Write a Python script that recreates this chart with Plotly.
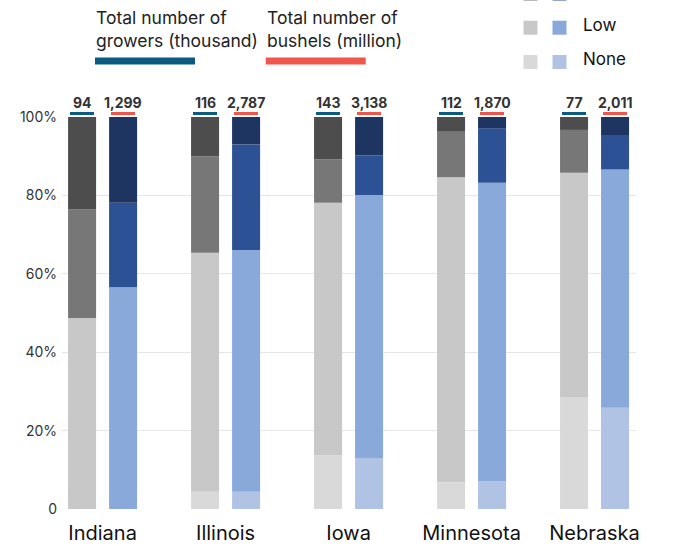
import numpy as np
import plotly.graph_objects as go

# Data
states = ["Indiana", "Illinois", "Iowa", "Minnesota", "Nebraska"]
levels = ["None", "Low", "Medium", "High"]

growers_total = [94, 116, 143, 112, 77]          # thousand growers
bushels_total = [1299, 2787, 3138, 1870, 2011]  # million bushels

# Share (%) of growers in each level, per state
growers_none = [0.0, 4.4, 13.7, 6.8, 28.6]
growers_low = [48.7, 61.0, 64.4, 77.8, 57.2]
growers_medium = [27.7, 24.6, 11.1, 11.8, 10.9]
growers_high = [23.6, 10.0, 10.8, 3.6, 3.3]

# Share (%) of bushels in each level, per state
bushels_none = [0.0, 4.4, 13.0, 7.0, 25.8]
bushels_low = [56.6, 61.7, 67.1, 76.2, 60.8]
bushels_medium = [21.5, 26.9, 10.1, 13.9, 8.8]
bushels_high = [21.9, 7.0, 9.8, 2.9, 4.6]

y_ticks = [0, 20, 40, 60, 80, 100]
y_tick_labels = ["0", "20%", "40%", "60%", "80%", "100%"]

# Styling
gray_colors = ["#D9D9D9", "#C8C8C8", "#777777", "#4D4D4D"]
blue_colors = ["#B0C3E5", "#8AA9DB", "#2D5195", "#1E3461"]
growers_line = "#0B5A82"
bushels_line = "#F0574A"
FONT = "Inter"

W, H = 679, 546
M_L, M_R, M_T, M_B = 62, 43, 117, 37
PW, PH = W - M_L - M_R, H - M_T - M_B


def px(x):
    return (x - M_L) / PW


def py(y):
    return (H - M_B - y) / PH


growers = [growers_none, growers_low, growers_medium, growers_high]
bushels = [bushels_none, bushels_low, bushels_medium, bushels_high]

fig = go.Figure()


def add_stack(series, colors, group):
    base = np.zeros(len(states))
    for name, vals, col in zip(levels, series, colors):
        vals = np.asarray(vals)
        fig.add_trace(go.Bar(
            x=states, y=vals, base=base.copy(), name=name,
            offsetgroup=group, marker=dict(color=col, line=dict(width=0)),
            showlegend=False,
        ))
        base = base + vals


add_stack(growers, gray_colors, "growers")
add_stack(bushels, blue_colors, "bushels")

annotations = []
shift = 20.5
for s, g, b in zip(states, growers_total, bushels_total):
    for val, dx, col in ((g, -shift, growers_line), (b, shift, bushels_line)):
        annotations.append(dict(
            x=s, y=100, xref="x", yref="y", text=f"<b>{val:,}</b>",
            showarrow=False, xshift=dx, yshift=14.5, yanchor="middle",
            font=dict(family=FONT, size=14, color="#333333"),
        ))
        annotations.append(dict(
            x=s, y=100, xref="x", yref="y", text=" ", width=24, height=3,
            bgcolor=col, borderpad=0, borderwidth=0,
            showarrow=False, xshift=dx, yshift=3.8, yanchor="middle",
            font=dict(family=FONT, size=2),
        ))

# Header keys for the two totals
title_font = dict(family=FONT, size=17.5, color="#222222")
for x0, txt in ((94, "Total number of<br>growers (thousand)"),
                (265, "Total number of<br>bushels (million)")):
    annotations.append(dict(
        x=px(x0), y=py(28.5), xref="paper", yref="paper", text=txt,
        showarrow=False, xanchor="left", yanchor="middle", align="left",
        font=title_font,
    ))

shapes = []
for x0, col in ((95, growers_line), (265.7, bushels_line)):
    shapes.append(dict(type="rect", xref="paper", yref="paper",
                       x0=px(x0), x1=px(x0 + 100), y0=py(64.5), y1=py(57.5),
                       fillcolor=col, line=dict(width=0)))

# Level legend (top right)
row_y = {"Medium": -6.0, "Low": 27.7, "None": 62.0}
for lvl, yc in row_y.items():
    i = levels.index(lvl)
    for xl, col in ((523.5, gray_colors[i]), (552.5, blue_colors[i])):
        shapes.append(dict(type="rect", xref="paper", yref="paper",
                           x0=px(xl), x1=px(xl + 14), y0=py(yc + 7), y1=py(yc - 7),
                           fillcolor=col, line=dict(width=0),
                           opacity=0.5 if yc < 0 else 1))
    if yc > 0:
        annotations.append(dict(
            x=px(581), y=py(yc - 2.7), xref="paper", yref="paper", text=lvl,
            showarrow=False, xanchor="left", yanchor="middle",
            font=dict(family=FONT, size=17, color="#111111"),
        ))

fig.update_layout(
    width=W, height=H,
    margin=dict(l=M_L, r=M_R, t=M_T, b=M_B, autoexpand=False),
    paper_bgcolor="white", plot_bgcolor="white",
    barmode="group", bargap=0.333, bargroupgap=0.317,
    annotations=annotations, shapes=shapes,
    showlegend=False,
    xaxis=dict(
        range=[-0.33, 4.337], showgrid=False, zeroline=False, showline=False,
        ticks="", tickfont=dict(family=FONT, size=20, color="#111111"),
        ticklabelstandoff=10, automargin=False,
    ),
    yaxis=dict(
        range=[0, 100], tickvals=y_ticks, ticktext=y_tick_labels,
        showgrid=True, gridcolor="#E6E6E6", gridwidth=1,
        zeroline=False, showline=False, ticks="",
        tickfont=dict(family=FONT, size=14, color="#333333"),
        ticklabelstandoff=4, automargin=False,
    ),
)

fig.write_html("out.html")
